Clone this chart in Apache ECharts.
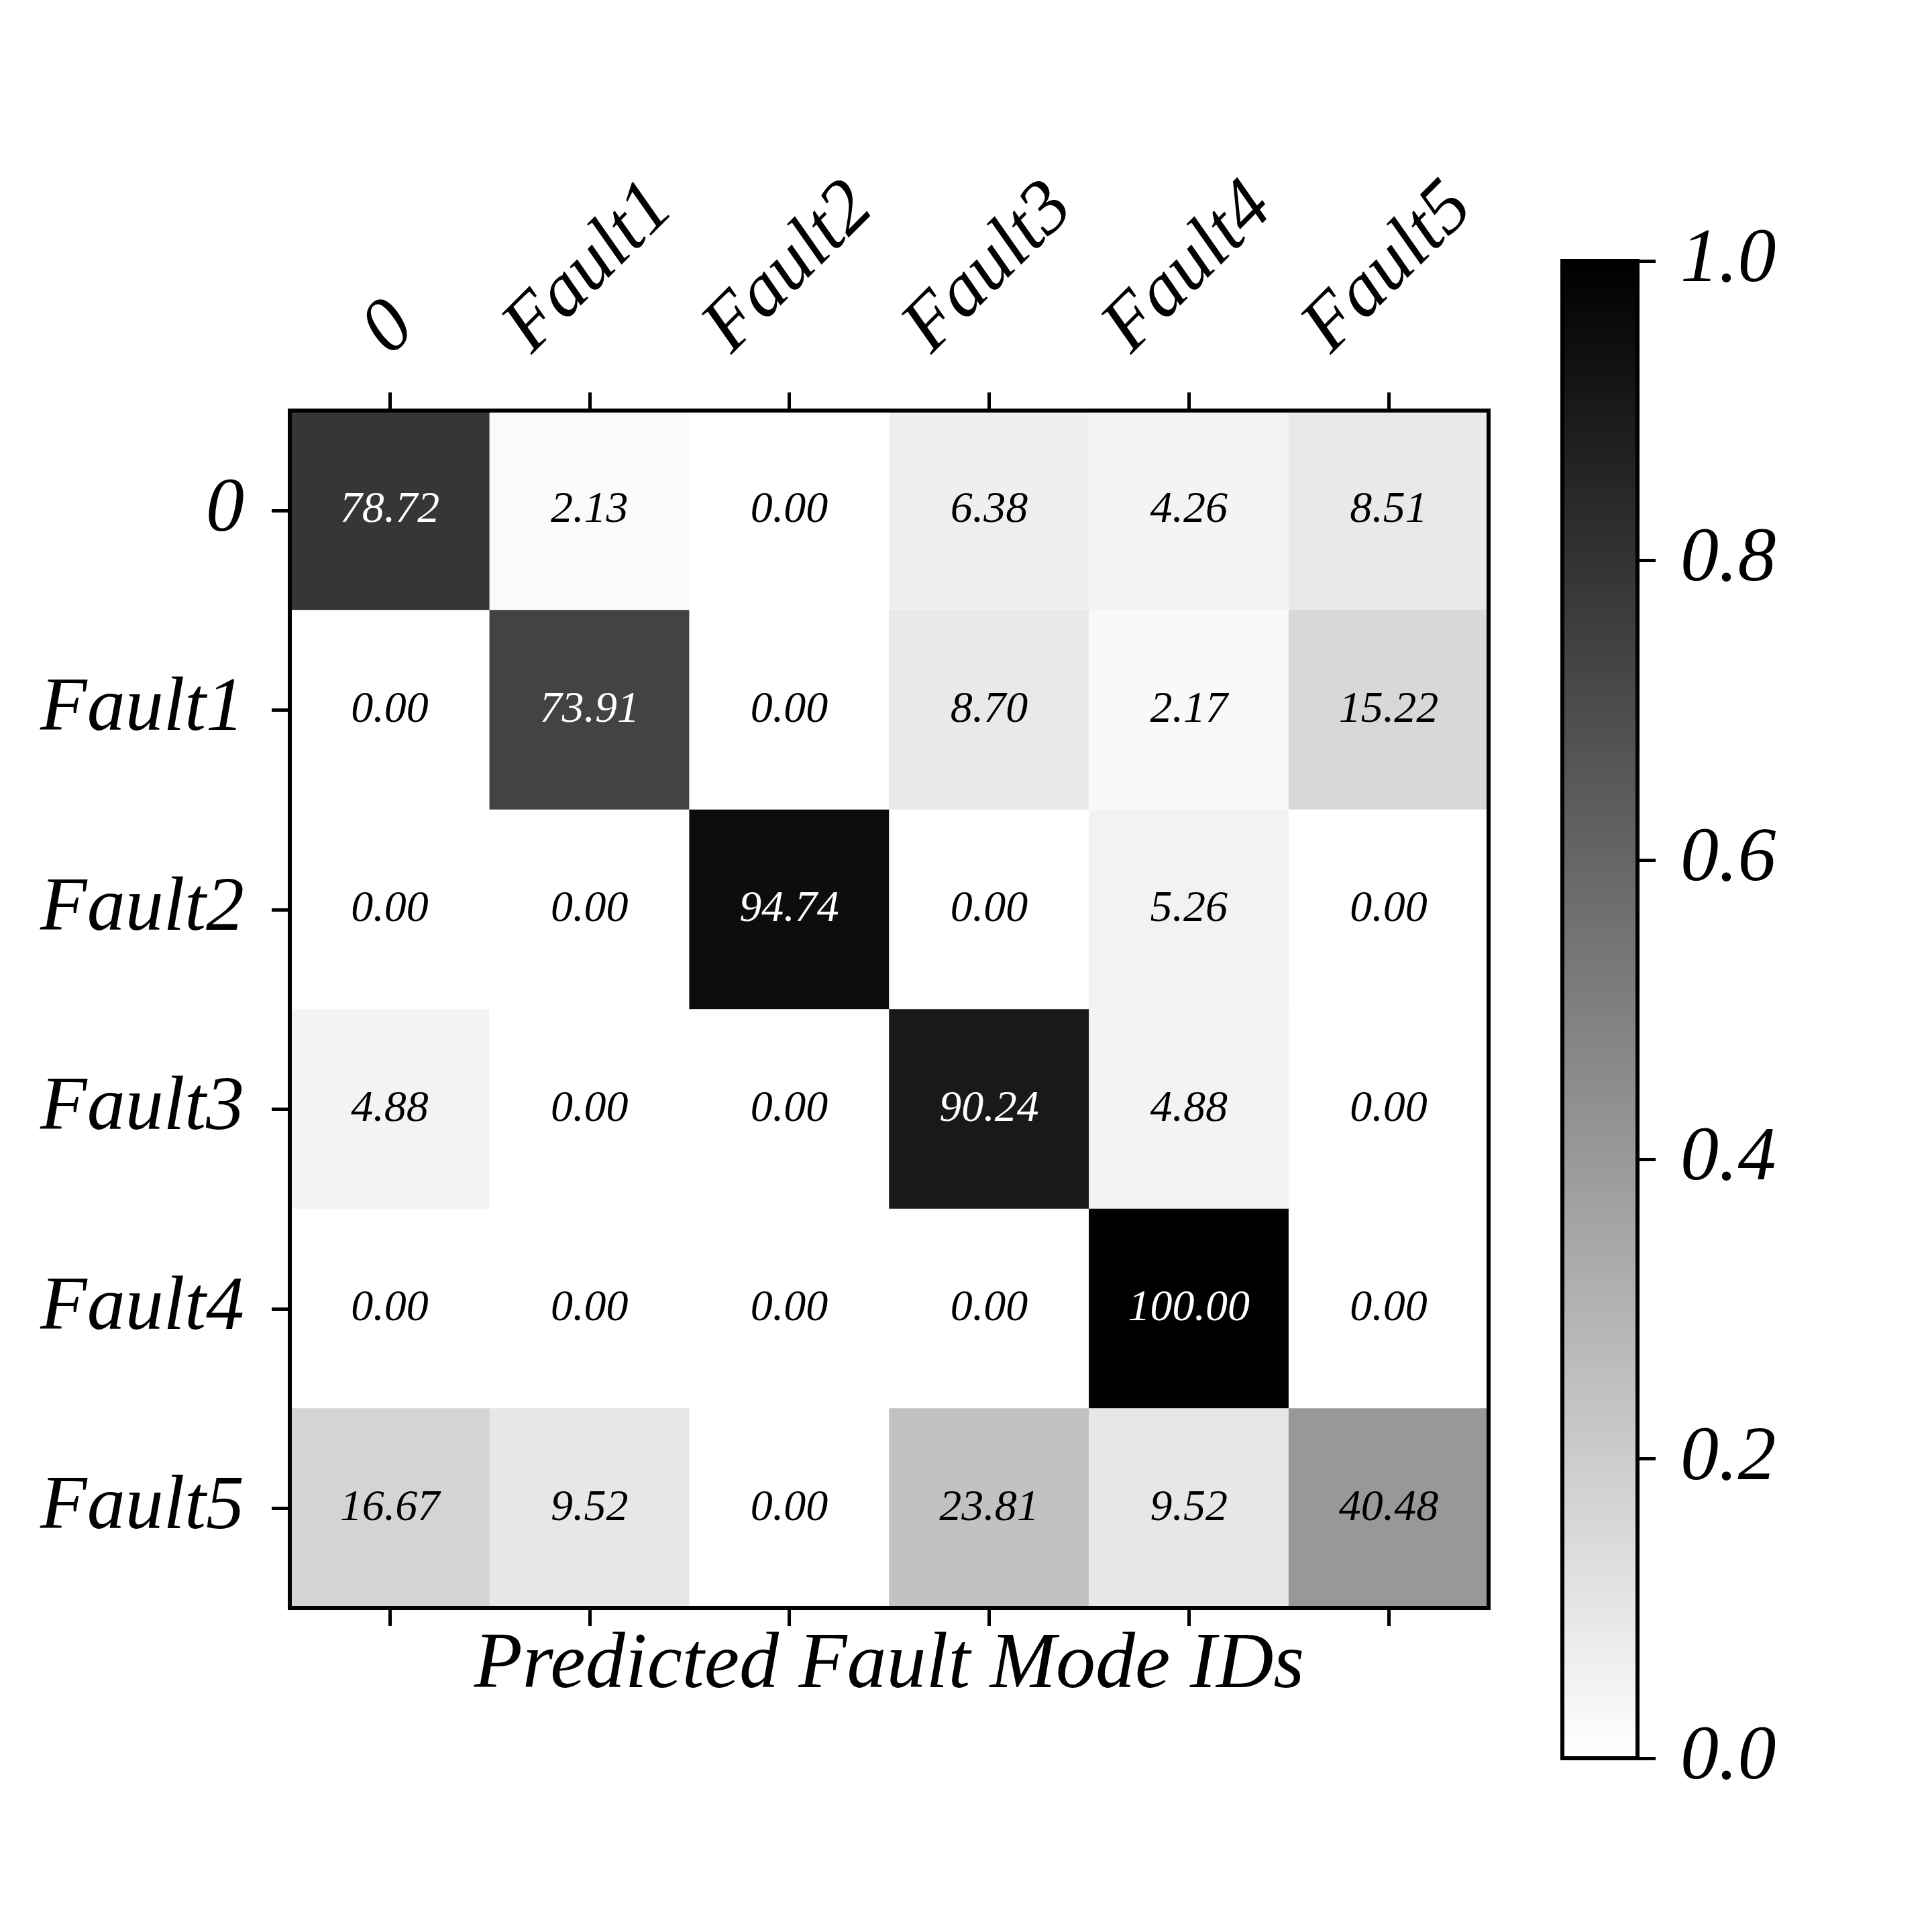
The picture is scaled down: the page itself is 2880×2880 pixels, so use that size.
<!DOCTYPE html>
<html>
<head>
<meta charset="utf-8">
<script src="https://cdn.jsdelivr.net/npm/echarts@6/dist/echarts.min.js"></script>
<style>
  html, body { margin: 0; padding: 0; background: #fff; }
  #chart { width: 2880px; height: 2880px; }
</style>
</head>
<body>
<div id="chart"></div>
<script>
// class names, same order on both axes
const classLabels = ['0', 'Fault1', 'Fault2', 'Fault3', 'Fault4', 'Fault5'];

// confusion matrix rows (true class), values in percent
const rowNormal = [78.72, 2.13, 0.00, 6.38, 4.26, 8.51];
const rowFault1 = [0.00, 73.91, 0.00, 8.70, 2.17, 15.22];
const rowFault2 = [0.00, 0.00, 94.74, 0.00, 5.26, 0.00];
const rowFault3 = [4.88, 0.00, 0.00, 90.24, 4.88, 0.00];
const rowFault4 = [0.00, 0.00, 0.00, 0.00, 100.00, 0.00];
const rowFault5 = [16.67, 9.52, 0.00, 23.81, 9.52, 40.48];

// colorbar range and ticks
const colorbarMin = 0;
const colorbarMax = 1;
const colorbarStep = 0.2;

const rows = [rowNormal, rowFault1, rowFault2, rowFault3, rowFault4, rowFault5];

const chart = echarts.init(document.getElementById('chart'));

const font = { fontFamily: 'Liberation Serif', fontStyle: 'italic', color: '#000' };
const black = '#000';
const frame = { show: true, lineStyle: { color: black, width: 6 } };
const tick = { show: true, alignWithLabel: true, length: 27, lineStyle: { color: black, width: 5 } };

// heatmap cells, text turns white on the dark half
const cells = [];
rows.forEach((row, i) => {
  row.forEach((v, j) => {
    cells.push({
      value: [j, i, v],
      label: { color: v > 50 ? '#fff' : '#000' }
    });
  });
});

const option = {
  animation: false,
  backgroundColor: '#fff',
  grid: [
    {
      left: 432, top: 612, width: 1787, height: 1785,
      show: true, z: 5, borderColor: black, borderWidth: 6,
      backgroundColor: 'transparent',
      outerBoundsMode: 'none'
    },
    {
      left: 2329, top: 389, width: 112, height: 2232,
      show: true, z: 5, borderColor: black, borderWidth: 6,
      backgroundColor: 'transparent',
      outerBoundsMode: 'none'
    }
  ],
  xAxis: [
    {
      type: 'category',
      gridIndex: 0,
      position: 'top',
      z: 5,
      data: classLabels,
      axisLine: frame,
      axisTick: tick,
      axisLabel: {
        ...font,
        fontSize: 114,
        rotate: -45,
        align: 'center',
        verticalAlign: 'middle',
        margin: 212,
        interval: 0,
        formatter: (v) => (v === '0' ? '{zero|0}' : v),
        rich: {
          zero: { ...font, fontSize: 114, padding: [128, 128, 0, 0] }
        }
      },
      splitLine: { show: false }
    },
    {
      type: 'category',
      gridIndex: 0,
      position: 'bottom',
      z: 5,
      data: classLabels,
      axisLine: frame,
      axisTick: tick,
      axisLabel: { show: false },
      splitLine: { show: false },
      name: 'Predicted Fault Mode IDs',
      nameLocation: 'middle',
      nameGap: 28,
      nameTextStyle: { ...font, fontSize: 118 }
    },
    {
      type: 'category',
      gridIndex: 1,
      data: [''],
      show: false
    }
  ],
  yAxis: [
    {
      type: 'category',
      gridIndex: 0,
      inverse: true,
      z: 5,
      data: classLabels,
      axisLine: frame,
      axisTick: tick,
      axisLabel: { ...font, fontSize: 114, margin: 68, interval: 0 },
      splitLine: { show: false }
    },
    {
      type: 'value',
      gridIndex: 1,
      position: 'right',
      z: 5,
      min: colorbarMin,
      max: colorbarMax,
      interval: colorbarStep,
      axisLine: frame,
      axisTick: { show: true, length: 27, lineStyle: { color: black, width: 5 } },
      axisLabel: { ...font, fontSize: 114, margin: 64, formatter: (v) => v.toFixed(1) },
      splitLine: { show: false }
    }
  ],
  visualMap: {
    show: false,
    type: 'continuous',
    seriesIndex: 0,
    dimension: 2,
    min: 0,
    max: 100,
    inRange: { color: ['#ffffff', '#000000'] }
  },
  series: [
    {
      type: 'heatmap',
      xAxisIndex: 0,
      yAxisIndex: 0,
      data: cells,
      label: {
        show: true,
        ...font,
        fontSize: 66,
        formatter: (p) => p.value[2].toFixed(2)
      },
      emphasis: { disabled: true },
      silent: true
    },
    {
      // colorbar strip
      type: 'bar',
      xAxisIndex: 2,
      yAxisIndex: 1,
      data: [colorbarMax],
      barWidth: '100%',
      silent: true,
      itemStyle: {
        color: {
          type: 'linear', x: 0, y: 0, x2: 0, y2: 1,
          colorStops: [
            { offset: 0, color: '#000000' },
            { offset: 1, color: '#ffffff' }
          ]
        }
      }
    }
  ]
};

chart.setOption(option);
</script>
</body>
</html>
